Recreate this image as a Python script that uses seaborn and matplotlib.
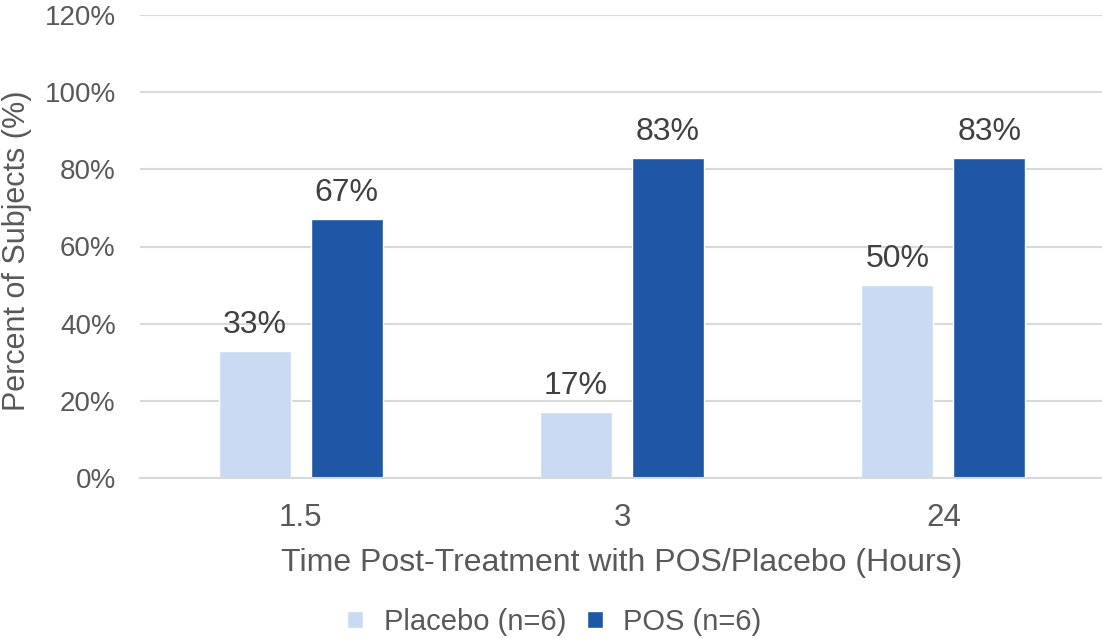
import matplotlib
matplotlib.use("Agg")
import matplotlib.pyplot as plt
from matplotlib.ticker import PercentFormatter
import seaborn as sns
import pandas as pd

# Response rates by time point and treatment group
timepoints = ["1.5", "3", "24"]
placebo = [33, 17, 50]
pos = [67, 83, 83]
groups = ["Placebo (n=6)", "POS (n=6)"]
colors = ["#C9DAF2", "#1F56A5"]

df = pd.DataFrame({
    "time": timepoints * 2,
    "pct": placebo + pos,
    "group": [groups[0]] * 3 + [groups[1]] * 3,
})

sns.set_theme(style="white")
plt.rcParams["font.family"] = ["Liberation Sans", "DejaVu Sans"]

fig = plt.figure(figsize=(11.02, 6.38), dpi=100)
ax = fig.add_axes([140 / 1102, 160 / 638, 964 / 1102, 463 / 638])

sns.barplot(data=df, x="time", y="pct", hue="group", order=timepoints,
            hue_order=groups, palette=colors, width=0.573, gap=0.22,
            saturation=1, ax=ax, legend=True)

ax.set_ylim(0, 120)
ax.set_xlim(-0.5, 2.5)
ax.set_yticks(range(0, 121, 20))
ax.yaxis.set_major_formatter(PercentFormatter(decimals=0))
ax.grid(axis="y", color="#D9D9D9", linewidth=1.5)
ax.set_axisbelow(True)
for side in ["top", "right", "left"]:
    ax.spines[side].set_visible(False)
ax.spines["bottom"].set_color("#D9D9D9")
ax.spines["bottom"].set_linewidth(1.5)
ax.tick_params(axis="y", length=0, labelsize=20, colors="#595959", pad=17.5)
ax.tick_params(axis="x", length=0, labelsize=22.5, colors="#595959", pad=18)

ax.set_xlabel("Time Post-Treatment with POS/Placebo (Hours)", fontsize=23,
              color="#595959", labelpad=11)
ax.set_ylabel("Percent of Subjects (%)", fontsize=22, color="#595959")
ax.yaxis.set_label_coords(-108 / 964, 0.49)

for cont in ax.containers:
    ax.bar_label(cont, labels=[f"{v:.0f}%" for v in cont.datavalues],
                 padding=8, fontsize=23, color="#404040")

handles, labels = ax.get_legend_handles_labels()
ax.legend_.remove()
fig.legend(handles, labels, loc="center", bbox_to_anchor=(0.503, 16 / 638),
           ncol=2, frameon=False, fontsize=21, labelcolor="#595959",
           handlelength=0.55, handleheight=0.55, handletextpad=0.7,
           columnspacing=0.7)

fig.savefig("out.png", dpi=100)
